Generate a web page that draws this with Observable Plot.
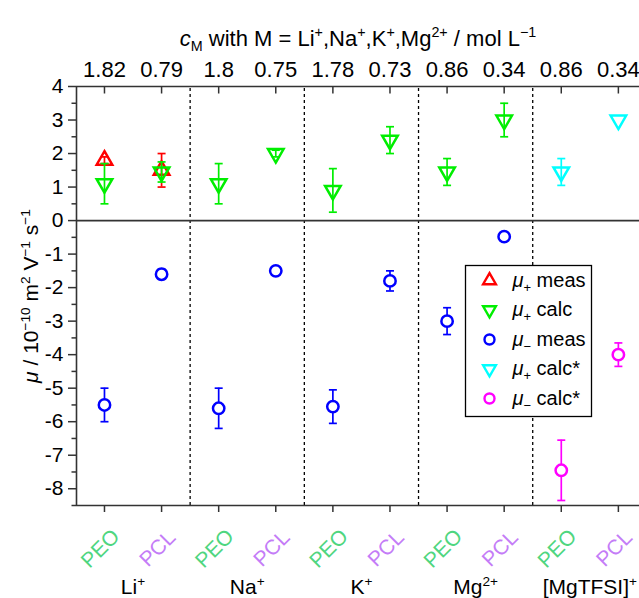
<!DOCTYPE html>
<html><head><meta charset="utf-8">
<script src="https://cdn.jsdelivr.net/npm/d3@7"></script>
<script src="https://cdn.jsdelivr.net/npm/@observablehq/plot@0.6"></script>
<style>html,body{margin:0;padding:0;background:#fff;overflow:hidden}</style>
</head><body><div id="chart"></div>
<script>
// ---------- data ----------
const groups = ["Li^{+}", "Na^{+}", "K^{+}", "Mg^{2+}", "[MgTFSI]^{+}"];
const polymers = ["PEO", "PCL"];
const concentrations = ["1.82", "0.79", "1.8", "0.75", "1.78", "0.73", "0.86", "0.34", "0.86", "0.34"];
const titleTop = "*{c}_{M} with M = Li^{+},Na^{+},K^{+},Mg^{2+} / mol L^{−1}";
const titleY = "*{μ} / 10^{−10} m^{2} V^{−1} s^{−1}";

const muPlusMeas       = [1.8, 1.5, null, null, null, null, null, null, null, null];
const muPlusMeasErr    = [0.1, 0.5, null, null, null, null, null, null, null, null];
const muPlusCalc       = [1.1, 1.45, 1.1, 2.0, 0.9, 2.4, 1.45, 3.0, null, null];
const muPlusCalcErr    = [0.6, 0.3, 0.6, 0.1, 0.65, 0.4, 0.4, 0.5, null, null];
const muMinusMeas      = [-5.5, -1.6, -5.6, -1.5, -5.55, -1.8, -3.0, -0.48, null, null];
const muMinusMeasErr   = [0.5, 0.15, 0.6, 0.12, 0.5, 0.3, 0.4, 0, null, null];
const muPlusCalcStar   = [null, null, null, null, null, null, null, null, 1.45, 3.0];
const muPlusCalcStarErr= [null, null, null, null, null, null, null, null, 0.4, 0];
const muMinusCalcStar  = [null, null, null, null, null, null, null, null, -7.45, -4.0];
const muMinusCalcStarErr=[null, null, null, null, null, null, null, null, 0.9, 0.35];

const legendLabels = ["*{μ}_{+} meas", "*{μ}_{+} calc", "*{μ}_{−} meas", "*{μ}_{+} calc*", "*{μ}_{−} calc*"];
const yTicks = [-8, -7, -6, -5, -4, -3, -2, -1, 0, 1, 2, 3, 4];
const yMinorTicks = [-8.5, -7.5, -6.5, -5.5, -4.5, -3.5, -2.5, -1.5, -0.5, 0.5, 1.5, 2.5, 3.5];

// ---------- symbols ----------
const triUp = {draw(ctx, size) { const R = Math.sqrt(size / Math.PI); const h = R * Math.sqrt(3) / 2;
  ctx.moveTo(0, -R); ctx.lineTo(h, R / 2); ctx.lineTo(-h, R / 2); ctx.closePath(); }};
const triDown = {draw(ctx, size) { const R = Math.sqrt(size / Math.PI); const h = R * Math.sqrt(3) / 2;
  ctx.moveTo(0, R); ctx.lineTo(h, -R / 2); ctx.lineTo(-h, -R / 2); ctx.closePath(); }};
const capSym = {draw(ctx, size) { const R = Math.sqrt(size / Math.PI); ctx.moveTo(-R, 0); ctx.lineTo(R, 0); }};
const tickDownSym = {draw(ctx, size) { const R = Math.sqrt(size / Math.PI); ctx.moveTo(0, 0); ctx.lineTo(0, R); }};

const series = [
  {values: muPlusMeas, errors: muPlusMeasErr, color: "#ff0000", symbol: triUp, r: 9, fill: "none", lr: 7.4},
  {values: muPlusCalc, errors: muPlusCalcErr, color: "#00ee00", symbol: triDown, r: 9, fill: "none", lr: 7.4},
  {values: muMinusMeas, errors: muMinusMeasErr, color: "#0000ff", symbol: "circle", r: 5.7, fill: "white", lr: 5},
  {values: muPlusCalcStar, errors: muPlusCalcStarErr, color: "#00ffff", symbol: triDown, r: 9, fill: "none", lr: 7.4},
  {values: muMinusCalcStar, errors: muMinusCalcStarErr, color: "#ff00ff", symbol: "circle", r: 5.7, fill: "white", lr: 5}
];

const idx = concentrations.map((_, i) => i);
const xDomain = [-0.49, 9.37];
const yDomain = [-8.5, 4];
const separators = groups.slice(1).map((_, g) => 2 * g + 1.5);
const axisColor = "#333";
const font = "'Liberation Sans', Arial, sans-serif";
const FS = 21;
const FS_TOP = 22;

const marks = [];
// separators
marks.push(Plot.ruleX(separators, {y1: yDomain[0], y2: yDomain[1], stroke: "#000", strokeWidth: 1.3, strokeDasharray: "3,3"}));
// axes lines
marks.push(Plot.ruleY([0], {stroke: axisColor, strokeWidth: 1.6}));
marks.push(Plot.ruleY(yDomain, {stroke: axisColor, strokeWidth: 1.6}));
marks.push(Plot.ruleX([xDomain[0]], {stroke: axisColor, strokeWidth: 1.6}));
// y axis
marks.push(Plot.axisY({ticks: yTicks, tickSize: 8, tickPadding: 5, tickFormat: d => String(d), label: null,
  stroke: axisColor, strokeWidth: 1.5, fill: "#000", fontSize: FS}));
marks.push(Plot.axisY({ticks: yMinorTicks, tickSize: 4.5, tickFormat: () => "", label: null, stroke: axisColor, strokeWidth: 1.5}));
// bottom ticks
marks.push(Plot.axisX({anchor: "bottom", ticks: idx, tickSize: 7, tickFormat: () => "", label: null, stroke: axisColor, strokeWidth: 1.5}));
// top ticks pointing inward
marks.push(Plot.dot(idx, {x: d => d, y: () => yDomain[1], symbol: tickDownSym, r: 7, stroke: axisColor, strokeWidth: 1.5}));
// top labels
marks.push(Plot.text(idx, {x: d => d, text: d => concentrations[d], frameAnchor: "top", lineAnchor: "middle", dy: -17, fontSize: FS_TOP, fill: "#000"}));
marks.push(Plot.text([titleTop], {frameAnchor: "top", lineAnchor: "middle", dy: -48, fontSize: FS_TOP, fill: "#000"}));
// bottom labels
marks.push(Plot.text(idx.filter(i => i % 2 === 0), {x: d => d, text: d => polymers[d % 2], frameAnchor: "bottom", lineAnchor: "middle", textAnchor: "middle", dx: -4, dy: 43, rotate: -45, fontSize: FS, fill: "#4fd67f"}));
marks.push(Plot.text(idx.filter(i => i % 2 === 1), {x: d => d, text: d => polymers[d % 2], frameAnchor: "bottom", lineAnchor: "middle", textAnchor: "middle", dx: -4, dy: 43, rotate: -45, fontSize: FS, fill: "#c47cf7"}));
marks.push(Plot.text(groups, {x: (d, i) => 2 * i + 0.5, text: d => d, frameAnchor: "bottom", lineAnchor: "middle", dy: 82, fontSize: FS, fill: "#000"}));
// y title
marks.push(Plot.text([titleY], {frameAnchor: "left", textAnchor: "middle", lineAnchor: "middle", dx: -45, dy: 0, rotate: -90, fontSize: FS, fill: "#000"}));

// data
for (const s of series) {
  const pts = s.values.map((v, i) => v == null ? null : {x: i, y: v, e: s.errors[i] || 0}).filter(Boolean);
  const withErr = pts.filter(p => p.e > 0);
  marks.push(Plot.ruleX(withErr, {x: "x", y1: p => p.y - p.e, y2: p => p.y + p.e, stroke: s.color, strokeWidth: 1.7}));
  marks.push(Plot.dot(withErr, {x: "x", y: p => p.y - p.e, symbol: capSym, r: 4, stroke: s.color, strokeWidth: 1.7}));
  marks.push(Plot.dot(withErr, {x: "x", y: p => p.y + p.e, symbol: capSym, r: 4, stroke: s.color, strokeWidth: 1.7}));
  marks.push(Plot.dot(pts, {x: "x", y: "y", symbol: s.symbol, r: s.r, stroke: s.color, fill: s.fill, strokeWidth: 2.5}));
}

// legend
marks.push(Plot.frame({insetLeft: 389, insetTop: 179, insetRight: 48, insetBottom: 89, fill: "white", stroke: "#000", strokeWidth: 1.3}));
series.forEach((s, i) => {
  marks.push(Plot.dot([0], {frameAnchor: "top-left", dx: 413, dy: 194 + 29.5 * i, symbol: s.symbol, r: s.lr, stroke: s.color, fill: "none", strokeWidth: 2.4}));
  marks.push(Plot.text([legendLabels[i]], {frameAnchor: "top-left", dx: 436, dy: 194 + 29.5 * i, textAnchor: "start", lineAnchor: "middle", fontSize: 20, fill: "#000"}));
});

const chart = Plot.plot({
  width: 639, height: 598,
  marginTop: 86, marginBottom: 93, marginLeft: 76, marginRight: 0,
  x: {type: "linear", domain: xDomain, axis: null},
  y: {type: "linear", domain: yDomain, axis: null},
  style: {fontFamily: font, fontSize: FS + "px", background: "white", color: "#000", overflow: "visible"},
  marks
});
document.getElementById("chart").appendChild(chart);

// rich text: ^{sup} _{sub} *{italic}
d3.select(chart).selectAll("text").each(function () {
  const t = this.textContent;
  if (!/[\^_*]\{/.test(t)) return;
  const fs = parseFloat(getComputedStyle(this).fontSize) || FS;
  const sel = d3.select(this);
  sel.text(null);
  const re = /([\^_*])\{([^}]*)\}/g;
  const parts = []; let last = 0, m;
  while ((m = re.exec(t))) { if (m.index > last) parts.push(["", t.slice(last, m.index)]); parts.push([m[1], m[2]]); last = re.lastIndex; }
  if (last < t.length) parts.push(["", t.slice(last)]);
  let cur = 0;
  for (const [k, s] of parts) {
    const target = k === "^" ? -0.4 * fs : k === "_" ? 0.25 * fs : 0;
    const ts = sel.append("tspan").text(s);
    if (target !== cur) ts.attr("dy", target - cur);
    cur = target;
    if (k === "^" || k === "_") ts.attr("font-size", 0.65 * fs);
    if (k === "*") ts.attr("font-style", "italic");
  }
});
</script></body></html>
